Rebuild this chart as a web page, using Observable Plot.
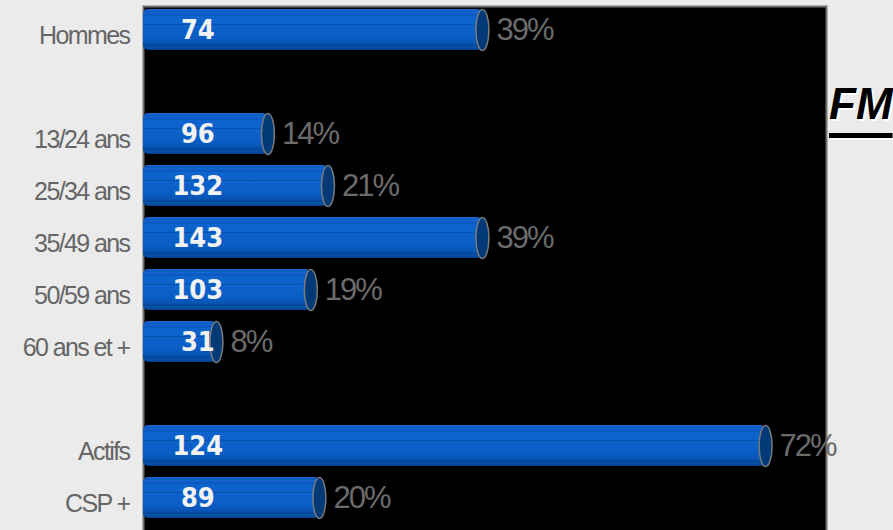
<!DOCTYPE html>
<html>
<head>
<meta charset="utf-8">
<script src="https://cdn.jsdelivr.net/npm/d3@7"></script>
<script src="https://cdn.jsdelivr.net/npm/@observablehq/plot@0.6"></script>
<style>
  html, body { margin: 0; padding: 0; background: #EBEBEB; overflow: hidden; }
  #wrap { position: relative; width: 893px; height: 530px; overflow: hidden; }
  #title { position: absolute; left: 829px; top: 79px; font-family: "Liberation Sans", Arial, sans-serif;
           font-weight: bold; font-style: italic; font-size: 44px; line-height: 50px; color: #000; white-space: nowrap;
           text-decoration: underline; text-decoration-thickness: 5px; text-underline-offset: 14px;
           text-shadow: 2px 2px 0 #fff; letter-spacing: 0px; }
</style>
</head>
<body>
<div id="wrap"><div id="chart"></div><div id="title">FM</div></div>
<script>
// ---- data ----
const rows = ["Hommes", "_gap1", "13/24 ans", "25/34 ans", "35/49 ans", "50/59 ans", "60 ans et +", "_gap2", "Actifs", "CSP +"];
const categories = ["Hommes", "13/24 ans", "25/34 ans", "35/49 ans", "50/59 ans", "60 ans et +", "Actifs", "CSP +"];
const counts = [74, 96, 132, 143, 103, 31, 124, 89];
const percents = [39, 14, 21, 39, 19, 8, 72, 20];
const xDomain = [-0.5, 79.1];

const data = categories.map((c, i) => ({cat: c, count: counts[i], pct: percents[i]}));

// cylinder end cap symbol (ellipse)
const capSymbol = {
  draw(ctx) {
    const w = 6.5, h = 20.5, k = 0.5523;
    ctx.moveTo(0, -h);
    ctx.bezierCurveTo(k * w, -h, w, -k * h, w, 0);
    ctx.bezierCurveTo(w, k * h, k * w, h, 0, h);
    ctx.bezierCurveTo(-k * w, h, -w, k * h, -w, 0);
    ctx.bezierCurveTo(-w, -k * h, -k * w, -h, 0, -h);
    ctx.closePath();
  }
};

const chart = Plot.plot({
  width: 893,
  height: 534,
  marginLeft: 143,
  marginRight: 67,
  marginTop: 6,
  marginBottom: 0,
  style: {background: "transparent", fontFamily: "'Liberation Sans', Arial, sans-serif", overflow: "visible"},
  x: {domain: xDomain, axis: null},
  y: {domain: rows, range: [-5, 532.5], padding: 0.22, axis: null},
  marks: [
    Plot.frame({fill: "black", stroke: "#707070", strokeWidth: 2}),
    Plot.barX(data, {y: "cat", x1: () => xDomain[0], x2: "pct", fill: "url(#barGrad)", rx: 5}),
    Plot.dot(data, {y: "cat", x: "pct", symbol: capSymbol, r: 10, fill: "#023a78", stroke: "#7a7a7a", strokeWidth: 1.5}),
    Plot.text(data, {y: "cat", x: () => 0, dx: 50, text: d => String(d.count), textAnchor: "middle",
      fill: "#f2f2f2", fontWeight: "bold", fontSize: 27, fontFamily: "'DejaVu Sans Condensed', 'DejaVu Sans', sans-serif"}),
    Plot.text(data, {y: "cat", x: "pct", dx: 14, text: d => d.pct + "%", textAnchor: "start",
      fill: "#6b6b6b", fontSize: 31}),
    Plot.axisY({ticks: categories, tickSize: 0, tickPadding: 14, fontSize: 25, fill: "#666", dy: 6, label: null})
  ]
});

const svg = d3.select(chart);
const defs = svg.insert("defs", ":first-child");
const g = defs.append("linearGradient").attr("id", "barGrad").attr("x1", 0).attr("y1", 0).attr("x2", 0).attr("y2", 1);
[
  [0, "#1d6cd6"], [0.05, "#0b58bd"], [0.09, "#1467d2"], [0.14, "#0a56ba"], [0.19, "#0e64ce"],
  [0.35, "#0d63cc"], [0.37, "#064a9e"], [0.40, "#0c63cc"], [0.70, "#0a5dc4"], [0.86, "#0852ad"],
  [0.88, "#043f88"], [0.91, "#0752aa"], [1, "#05438f"]
].forEach(([o, c]) => g.append("stop").attr("offset", o).attr("stop-color", c));

svg.selectAll('g[aria-label="y-axis tick label"] text').style("letter-spacing", "-1.6px");
svg.selectAll('g[aria-label="text"] text').filter(function() { return /%/.test(this.textContent); }).style("letter-spacing", "-2px");

document.getElementById("chart").appendChild(chart);
</script>
</body>
</html>
